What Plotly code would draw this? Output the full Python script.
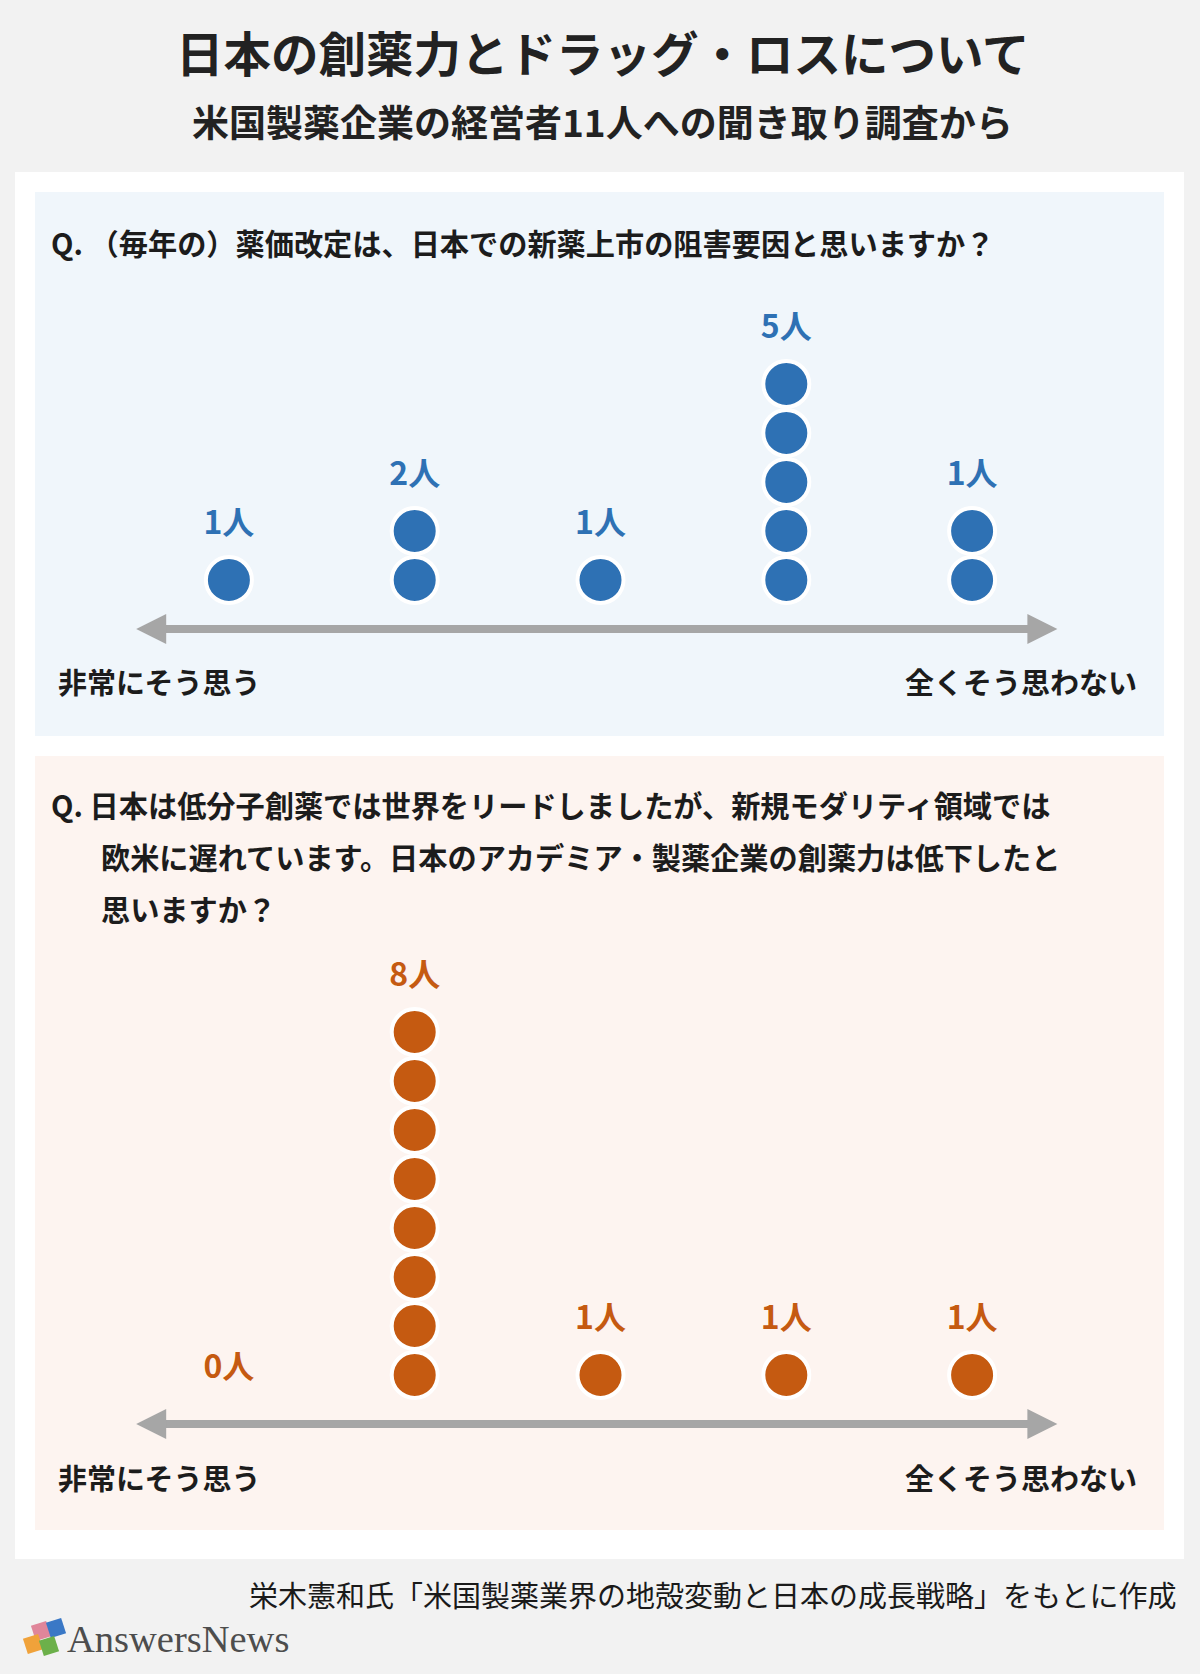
import math
import plotly.graph_objects as go

# ---------------- data ----------------
categories = ["非常にそう思う", "ややそう思う", "どちらともいえない", "あまりそう思わない", "全くそう思わない"]
q1_label_counts = [1, 2, 1, 5, 1]   # numbers printed above the stacks
q1_dot_counts = [1, 2, 1, 5, 2]     # dots drawn in each stack
q2_label_counts = [0, 8, 1, 1, 1]
q2_dot_counts = [0, 8, 1, 1, 1]

title = "日本の創薬力とドラッグ・ロスについて"
subtitle = "米国製薬企業の経営者11人への聞き取り調査から"
q1_text = ["Q. （毎年の）薬価改定は、日本での新薬上市の阻害要因と思いますか？"]
q2_text = ["Q. 日本は低分子創薬では世界をリードしましたが、新規モダリティ領域では",
           "欧米に遅れています。日本のアカデミア・製薬企業の創薬力は低下したと",
           "思いますか？"]
left_end = "非常にそう思う"
right_end = "全くそう思わない"
source = "栄木憲和氏「米国製薬業界の地殻変動と日本の成長戦略」をもとに作成"

# ---------------- styling ----------------
W, H = 1200, 1674
FONT = "Noto Sans CJK JP"
BLUE = "#2e71b4"
ORANGE = "#c55a11"
GREY = "#a6a6a6"
TXT = "#1c1c1c"


def px(x):
    return x / W


def py(y):
    return 1 - y / H


fig = go.Figure()

X_DOM = [px(136), px(1065)]
panels = [
    dict(xa="x", ya="y", labels=q1_label_counts, dots=q1_dot_counts, color=BLUE,
         ydom=[py(658.4), py(286)], yrange=[-1.6, 6]),
    dict(xa="x2", ya="y2", labels=q2_label_counts, dots=q2_dot_counts, color=ORANGE,
         ydom=[py(1453.4), py(934)], yrange=[-1.6, 9]),
]

layout_axes = {}
for idx, p in enumerate(panels):
    sfx = "" if idx == 0 else str(idx + 1)
    layout_axes["xaxis" + sfx] = dict(domain=X_DOM, range=[-0.5, 4.5], visible=False,
                                      anchor=p["ya"], fixedrange=True)
    layout_axes["yaxis" + sfx] = dict(domain=p["ydom"], range=p["yrange"], visible=False,
                                      anchor=p["xa"], fixedrange=True)

shapes = []
# white card
shapes.append(dict(type="rect", xref="paper", yref="paper", x0=px(15), x1=px(1184),
                   y0=py(1559), y1=py(172), fillcolor="white", line_width=0, layer="below"))
# panel backgrounds
shapes.append(dict(type="rect", xref="paper", yref="paper", x0=px(35), x1=px(1164),
                   y0=py(736), y1=py(192), fillcolor="#f0f6fb", line_width=0, layer="below"))
shapes.append(dict(type="rect", xref="paper", yref="paper", x0=px(35), x1=px(1164),
                   y0=py(1530), y1=py(756), fillcolor="#fdf4f0", line_width=0, layer="below"))

# double-headed arrows along the scale
TIP_L, TIP_R = -0.499, 4.459
HEAD_W = 0.1615
HEAD_H = 0.306
for p in panels:
    xr, yr = p["xa"], p["ya"]
    yb = -1
    shapes.append(dict(type="line", xref=xr, yref=yr, x0=TIP_L + HEAD_W * 0.9, x1=TIP_R - HEAD_W * 0.9,
                       y0=yb, y1=yb, line=dict(color=GREY, width=8)))
    shapes.append(dict(type="path", xref=xr, yref=yr, fillcolor=GREY, line_width=0,
                       path=f"M {TIP_L},{yb} L {TIP_L + HEAD_W},{yb + HEAD_H} L {TIP_L + HEAD_W},{yb - HEAD_H} Z"))
    shapes.append(dict(type="path", xref=xr, yref=yr, fillcolor=GREY, line_width=0,
                       path=f"M {TIP_R},{yb} L {TIP_R - HEAD_W},{yb + HEAD_H} L {TIP_R - HEAD_W},{yb - HEAD_H} Z"))

# logo puzzle pieces (decoration)
logo_pieces = [("#e0869a", 41, 1631), ("#3a78c6", 56, 1628), ("#f0a23a", 33, 1644), ("#6cb04a", 49, 1646)]
for col, cx, cy in logo_pieces:
    s = 8
    a = math.radians(-18)
    pts = []
    for dx, dy in [(-s, -s), (s, -s), (s, s), (-s, s)]:
        rx = cx + dx * math.cos(a) - dy * math.sin(a)
        ry = cy + dx * math.sin(a) + dy * math.cos(a)
        pts.append(f"{px(rx)},{py(ry)}")
    shapes.append(dict(type="path", xref="paper", yref="paper", fillcolor=col, line_width=0,
                       path="M " + " L ".join(pts) + " Z"))

for p in panels:
    xs, ys = [], []
    for i, n in enumerate(p["dots"]):
        for k in range(n):
            xs.append(i)
            ys.append(k)
    fig.add_trace(go.Scatter(
        x=xs, y=ys, mode="markers", xaxis=p["xa"], yaxis=p["ya"],
        marker=dict(size=46, color=p["color"], line=dict(color="white", width=4)),
        hoverinfo="skip", showlegend=False))
    fig.add_trace(go.Scatter(
        x=list(range(len(categories))),
        y=[n + 0.11 for n in p["dots"]],
        text=[f"<b>{v}人</b>" for v in p["labels"]],
        mode="text", xaxis=p["xa"], yaxis=p["ya"],
        textfont=dict(family=FONT, size=32, color=p["color"]),
        textposition="middle center", hoverinfo="skip", showlegend=False))

ann = []


def add_text(text, x, y, size, xanchor="left", color=TXT, bold=True, family=FONT):
    ann.append(dict(text=f"<b>{text}</b>" if bold else text, x=px(x), y=py(y), xref="paper", yref="paper",
                    xanchor=xanchor, yanchor="middle", showarrow=False,
                    font=dict(family=family, size=size, color=color)))


add_text(title, 603, 51, 47.5, xanchor="center", color="#222222")
add_text(subtitle, 602, 121, 37, xanchor="center", color="#222222")
add_text(q1_text[0], 49, 242, 29.2)
add_text(left_end, 56, 681, 29)
add_text(right_end, 1139, 681, 29, xanchor="right")
q2_x = [49, 99, 99]
q2_y = [804, 856, 908]
for t, x, y in zip(q2_text, q2_x, q2_y):
    add_text(t, x, y, 29.2)
add_text(left_end, 56, 1477, 29)
add_text(right_end, 1139, 1477, 29, xanchor="right")
add_text(source, 1178, 1594, 29, xanchor="right", bold=False, color="#1a1a1a")
add_text("AnswersNews", 65, 1639, 38.5, bold=False, color="#4d4d4d", family="Liberation Serif")

fig.update_layout(
    width=W, height=H, margin=dict(l=0, r=0, t=0, b=0),
    paper_bgcolor="#f2f2f2", plot_bgcolor="rgba(0,0,0,0)",
    shapes=shapes, annotations=ann, showlegend=False,
    **layout_axes,
)

fig.write_html("out.html", config={"displayModeBar": False, "staticPlot": True},
               post_script="document.body.style.margin='0';")
